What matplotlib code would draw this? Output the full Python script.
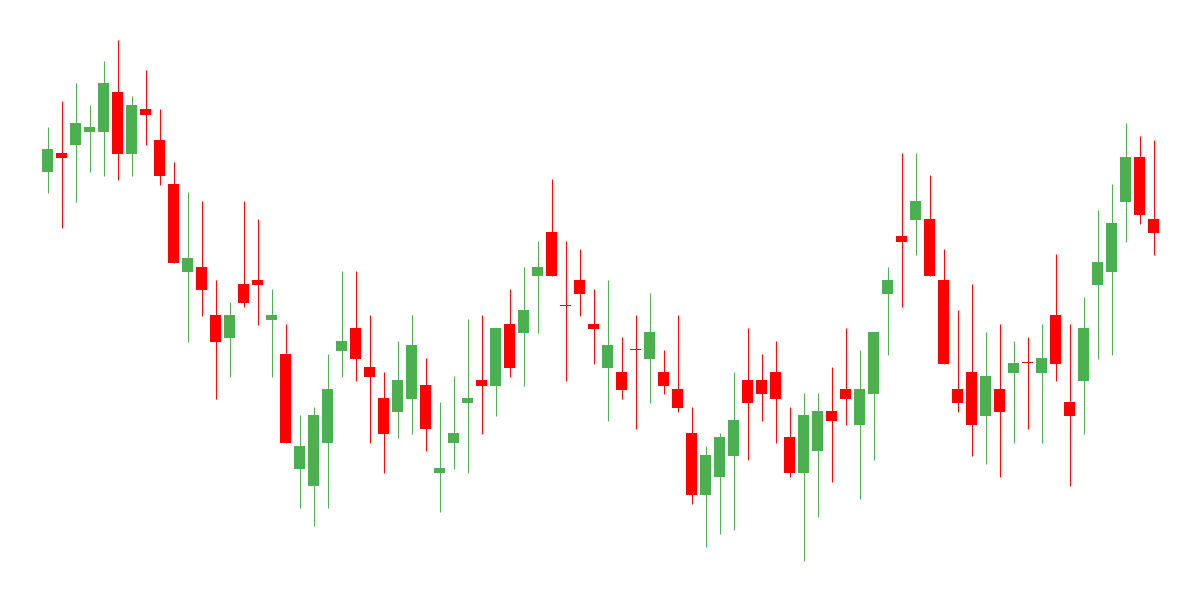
import numpy as np
import matplotlib
matplotlib.use("Agg")
import matplotlib.pyplot as plt

# valores OHLC (unidade arbitraria)
abertura = [428.3, 447, 455.3, 468.3, 468.3, 508, 446.3, 491, 460, 416,
            328.3, 333, 285, 262.3, 316, 320, 280.3, 246, 131.3, 114.3,
            157.3, 249.3, 272, 233, 202, 188.3, 201.3, 215, 127.3, 157.3,
            197.3, 220, 214.3, 276, 267.3, 324.3, 368, 294, 320, 276,
            232.3, 228, 249.8, 241.3, 228, 211, 167, 105.3, 123.3, 144.3,
            220, 220, 228, 163, 127.3, 149.3, 189, 211, 175.3, 206.3,
            306.3, 364, 380.3, 381, 320, 211, 228, 184.3, 211, 227.3,
            236.8, 227.3, 285, 198, 219.3, 315.3, 328.3, 398.3, 443, 381]
maxima = [473, 499, 517, 495, 539, 560, 504, 530, 491, 438,
          408, 399, 320, 298, 399, 381, 311, 276, 185, 193,
          246, 329, 329, 285, 228, 259, 285, 242, 198, 224,
          281, 285, 272, 311, 333, 359, 421, 359, 351, 311,
          320, 263, 285, 307, 250, 285, 193, 154, 167, 228,
          272, 246, 259, 193, 207, 207, 233, 272, 250, 268,
          333, 447, 447, 425, 351, 290, 316, 268, 276, 259,
          263, 276, 346, 276, 303, 390, 416, 477, 464, 460]
minima = [407.3, 372.3, 398.3, 428.3, 424.3, 420.3, 424.3, 455.3, 415.3, 337.3,
          258.3, 284.3, 201.3, 223.3, 293.3, 275.3, 223.3, 157.3, 92.3, 74.3,
          92.3, 223.3, 219.3, 157.3, 127.3, 162.3, 166, 149.3, 88.3, 131.3,
          127.3, 166, 184.3, 223.3, 214.3, 267.3, 324.3, 219.3, 284.3, 236.3,
          179.3, 201.3, 171.3, 197.3, 206.3, 188.3, 96.3, 53.3, 66.3, 70.3,
          140.3, 179.3, 157.3, 123.3, 39.3, 83.3, 118.3, 175.3, 101.3, 140.3,
          245.3, 293.3, 345.3, 324.3, 236.3, 188.3, 144.3, 136.3, 123.3, 157.3,
          171.3, 157.3, 219.3, 114.3, 166.3, 241.3, 245.3, 358.3, 376.3, 345.3]
fechamento = [451, 442.3, 477, 473, 517, 446.3, 495, 485.3, 424.3, 337.3,
              342, 310.3, 258.3, 285, 297.3, 315.3, 285, 157.3, 154, 185,
              211, 259, 241.3, 223.3, 166.3, 220, 255, 171.3, 132, 167,
              202, 214.3, 272, 232.3, 290, 333, 324.3, 293.7, 306.3, 271.3,
              255, 210.3, 249.6, 268, 214.3, 192.3, 105.3, 145, 163, 180,
              197.3, 206.3, 201.3, 127.3, 185, 189, 179.3, 201.3, 211, 268,
              320, 358.3, 399, 324.3, 236.3, 197.3, 175.3, 224, 188.3, 237,
              236.6, 242, 236.3, 184.3, 272, 338, 377, 443, 385.3, 367.3]

o = np.array(abertura)
h = np.array(maxima)
l = np.array(minima)
c = np.array(fechamento)
x = np.arange(len(o))

verde = '#4caf50'
vermelho = '#ff0000'
cores = [verde if fc > ab else vermelho for ab, fc in zip(o, c)]

fig = plt.figure(figsize=(12, 6), dpi=100)
ax = fig.add_axes([0, 0, 1, 1])

# pavios finos (~1 px)
ax.vlines(x, l, h, colors=cores, linewidth=0.7, zorder=1)

# corpos (altura minima pra doji aparecer)
base = np.minimum(o, c)
altura = np.maximum(np.abs(c - o), 1.0)
ax.bar(x, altura, bottom=base, width=0.786, color=cores, linewidth=0, zorder=2)

ax.set_xlim(-47.5 / 14, (1200 - 47.5) / 14)
ax.set_ylim(0, 600)
ax.axis('off')

fig.savefig('out.png', dpi=100, facecolor='white')
